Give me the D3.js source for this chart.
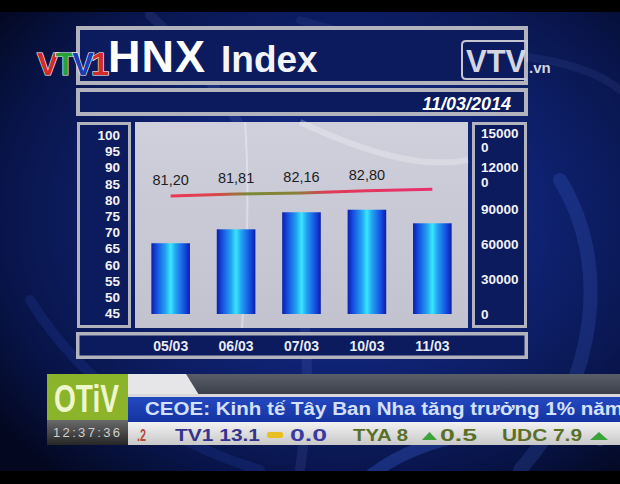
<!DOCTYPE html>
<html><head><meta charset="utf-8">
<script src="https://cdn.jsdelivr.net/npm/d3@7"></script>
<style>html,body{margin:0;padding:0;background:#000;overflow:hidden}</style>
</head><body>
<svg id="c" width="620" height="484"></svg>
<script>
// ---------- DATA ----------
const categories   = ["05/03", "06/03", "07/03", "10/03", "11/03"];
const volumeValues = [61000, 73000, 87700, 89900, 78200];   // bars (right axis)
const indexValues  = [81.20, 81.81, 82.16, 82.80, 83.3];     // HNX index line (left axis)
const indexLabels  = ["81,20", "81,81", "82,16", "82,80"];
const leftTicks    = [45, 50, 55, 60, 65, 70, 75, 80, 85, 90, 95, 100];
const rightTicks   = [0, 30000, 60000, 90000, 120000, 150000];
const titleMain    = "HNX";
const titleSub     = "Index";
const dateLabel    = "11/03/2014";
const channelLogo  = ["V", "T", "V", "1"];
const newsText     = "CEOE: Kinh tế Tây Ban Nha tăng trưởng 1% năm";
const clockText    = "12:37:36";
const stockTexts   = [".2", "TV1 13.1", "0.0", "TYA 8", "0.5", "UDC 7.9"];

// ---------- SETUP ----------
const svg = d3.select("#c");
const defs = svg.append("defs");
const FONT = "'Liberation Sans', Arial, Helvetica, sans-serif";
const NARROW = "'Liberation Sans Narrow', 'Arial Narrow', 'Liberation Sans', Arial, sans-serif";

function lg(id, stops, x1, y1, x2, y2, user) {
  const g = defs.append("linearGradient").attr("id", id)
    .attr("x1", x1).attr("y1", y1).attr("x2", x2).attr("y2", y2);
  if (user) g.attr("gradientUnits", "userSpaceOnUse");
  stops.forEach(s => g.append("stop").attr("offset", s[0]).attr("stop-color", s[1]).attr("stop-opacity", s[2] == null ? 1 : s[2]));
  return g;
}
const bgR = defs.append("radialGradient").attr("id", "bg").attr("cx", "55%").attr("cy", "45%").attr("r", "70%");
[["0%", "#18318f"], ["45%", "#0f2272"], ["80%", "#081448"], ["100%", "#030820"]]
  .forEach(s => bgR.append("stop").attr("offset", s[0]).attr("stop-color", s[1]));
lg("bar", [["0%", "#0a1ea8"], ["12%", "#1546dc"], ["38%", "#22a8f4"], ["50%", "#3ae6ff"], ["62%", "#22a8f4"], ["88%", "#1546dc"], ["100%", "#0a1ea8"]], "0", "0", "1", "0");
lg("plotbg", [["0%", "#cfd0dc"], ["40%", "#c9cad6"], ["100%", "#c2c3cf"]], "0", "0", "0", "1");
lg("clock", [["0%", "#6a6a6a"], ["100%", "#262626"]], "0", "0", "0", "1");
lg("news", [["0%", "#2448c0"], ["100%", "#1434a0"]], "0", "0", "0", "1");
lg("stock", [["0%", "#f2f2f2"], ["100%", "#c8c8c8"]], "0", "0", "0", "1");
lg("greybar", [["0%", "#5a5e68"], ["100%", "#3a3e48"]], "0", "0", "0", "1");

// background
svg.append("rect").attr("width", 620).attr("height", 484).attr("fill", "url(#bg)");
// faint swirl streaks
const sw = svg.append("g").attr("fill", "none").attr("stroke-linecap", "round");
[
  ["M 150 15 C 260 120 330 260 300 470", "#8fa8ff", 0.1, 10],
  ["M 560 180 C 610 260 600 380 520 470", "#5a80ff", 0.16, 14],
  ["M 360 484 C 420 430 520 420 600 440", "#4a78ff", 0.25, 12],
  ["M 30 300 C 80 380 160 440 260 470", "#2a4cc0", 0.2, 10],
  ["M 300 20 C 420 60 560 40 620 90", "#8fa8ff", 0.08, 8]
].forEach(a => sw.append("path").attr("d", a[0]).attr("stroke", a[1]).attr("stroke-opacity", a[2]).attr("stroke-width", a[3]));
// letterbox bands
svg.append("rect").attr("width", 620).attr("height", 12).attr("fill", "#000");
svg.append("rect").attr("y", 471).attr("width", 620).attr("height", 13).attr("fill", "#000");

// ---------- FRAMES ----------
const FRAME = "#b2b3bc", NAVY = "#0b1b5e";
function frame(x0, y0, x1, y1, sw) {
  svg.append("rect").attr("x", x0 + sw / 2).attr("y", y0 + sw / 2)
    .attr("width", x1 - x0 - sw).attr("height", y1 - y0 - sw)
    .attr("fill", NAVY).attr("stroke", FRAME).attr("stroke-width", sw);
}
frame(76, 26, 528, 85, 4);   // title
frame(76, 88, 528, 116, 4);  // date
frame(77, 122, 131, 328, 3); // left axis panel
frame(472, 122, 527, 328, 3);// right axis panel
frame(76, 332, 528, 359, 3.5);// category panel
svg.append("rect").attr("x", 135).attr("y", 122).attr("width", 333).attr("height", 206).attr("fill", "url(#plotbg)");
svg.append("path").attr("d", "M 245 122 C 250 190 247 260 242 328").attr("fill", "none")
  .attr("stroke", "#ffffff").attr("stroke-opacity", 0.35).attr("stroke-width", 2);
svg.append("path").attr("d", "M 300 122 C 360 150 420 170 468 160").attr("fill", "none")
  .attr("stroke", "#ffffff").attr("stroke-opacity", 0.25).attr("stroke-width", 6);

// ---------- TITLE ----------
svg.append("text").attr("x", 108).attr("y", 72).attr("font-family", FONT).attr("font-weight", "bold")
  .attr("font-size", 45).attr("fill", "#ffffff").attr("letter-spacing", 1).text(titleMain);
svg.append("text").attr("x", 221).attr("y", 72).attr("font-family", FONT).attr("font-weight", "bold")
  .attr("font-size", 37).attr("fill", "#f4f4f8").text(titleSub);
svg.append("text").attr("x", 511).attr("y", 110).attr("text-anchor", "end").attr("font-family", FONT)
  .attr("font-weight", "bold").attr("font-style", "italic").attr("font-size", 18).attr("fill", "#ffffff").text(dateLabel);

// VTV1 logo
const logoColors = ["#d42a2a", "#2aa03a", "#1c3cb0", "#d42a2a"];
const logo = svg.append("text").attr("x", 37).attr("y", 75).attr("font-family", FONT).attr("font-weight", "bold")
  .attr("font-size", 32).attr("letter-spacing", -3).attr("textLength", 69).attr("lengthAdjust", "spacingAndGlyphs")
  .attr("stroke", "#ffffff").attr("stroke-width", 1.2).attr("paint-order", "stroke");
channelLogo.forEach((ch, i) => logo.append("tspan").attr("fill", logoColors[i]).text(ch));

// VTV.vn logo
svg.append("path").attr("d", "M 527 62 L 527 41 L 466 41 Q 462 41 462 45 L 462 75 Q 462 79 466 79 L 527 79")
  .attr("fill", "none").attr("stroke", "#c4c6d2").attr("stroke-width", 2);
svg.append("text").attr("x", 466).attr("y", 72).attr("font-family", FONT).attr("font-weight", "bold")
  .attr("font-size", 31).attr("fill", "#d4d6e2").text("VTV");
svg.append("text").attr("x", 529).attr("y", 73).attr("font-family", FONT).attr("font-weight", "bold")
  .attr("font-size", 15).attr("fill", "#d4d6e2").text(".vn");

// ---------- SCALES ----------
const x = d3.scaleBand().domain(categories).range([135, 468]).paddingInner(0.41).paddingOuter(0.25);
const yR = d3.scaleLinear().domain([0, 150000]).range([314, 140]);
const yL = d3.scaleLinear().domain([45, 100]).range([313.5, 135]);

// bars
svg.append("g").selectAll("rect").data(volumeValues).join("rect")
  .attr("x", (d, i) => x(categories[i])).attr("y", d => yR(d))
  .attr("width", x.bandwidth()).attr("height", d => yR(0) - yR(d))
  .attr("fill", "url(#bar)");

// index line
const cx = i => x(categories[i]) + x.bandwidth() / 2;
const x0 = cx(0), x1 = cx(indexValues.length - 1);
lg("lineg", [["0%", "#ec3458"], ["18%", "#d84848"], ["30%", "#7a8a34"], ["48%", "#8a8038"], ["60%", "#e03a56"], ["100%", "#e8306e"]], x0, 0, x1, 0, true);
const line = d3.line().x((d, i) => cx(i)).y(d => yL(d));
svg.append("path").datum(indexValues).attr("d", line).attr("fill", "none")
  .attr("stroke", "url(#lineg)").attr("stroke-width", 3);
svg.append("g").selectAll("text").data(indexLabels).join("text")
  .attr("x", (d, i) => cx(i)).attr("y", (d, i) => yL(indexValues[i]) - 11)
  .attr("text-anchor", "middle").attr("font-family", FONT).attr("font-size", 14.5)
  .attr("fill", "#1c1c22").text(d => d);

// ---------- AXES ----------
const axL = svg.append("g").attr("transform", "translate(120,0)")
  .call(d3.axisLeft(yL).tickValues(leftTicks).tickSize(0).tickPadding(0));
axL.select(".domain").remove();
axL.selectAll("text").attr("font-family", FONT).attr("font-weight", "bold").attr("font-size", 13.5).attr("fill", "#f2f2f6");

const axR = svg.append("g").attr("transform", "translate(481,0)")
  .call(d3.axisRight(yR).tickValues(rightTicks).tickSize(0).tickPadding(0).tickFormat(d3.format("d")));
axR.select(".domain").remove();
axR.selectAll("text").attr("font-family", FONT).attr("font-weight", "bold").attr("font-size", 13.5).attr("fill", "#f2f2f6")
  .each(function () {
    const t = d3.select(this), s = t.text();
    if (s.length > 5) {
      t.text(null).attr("dy", null);
      t.append("tspan").attr("x", 0).attr("dy", -3).text(s.slice(0, 5));
      t.append("tspan").attr("x", 0).attr("dy", 14.5).text(s.slice(5));
    }
  });

const axB = svg.append("g").attr("transform", "translate(0,341)")
  .call(d3.axisBottom(x).tickSize(0).tickPadding(0));
axB.select(".domain").remove();
axB.selectAll("text").attr("font-family", FONT).attr("font-weight", "bold").attr("font-size", 14).attr("fill", "#e8eaf4");

// ---------- TICKER ----------
svg.append("rect").attr("x", 128).attr("y", 374).attr("width", 492).attr("height", 21).attr("fill", "url(#greybar)");
svg.append("path").attr("d", "M 128 374 L 186 374 L 199 395 L 128 395 Z").attr("fill", "#e6e6e8");
svg.append("rect").attr("x", 128).attr("y", 394).attr("width", 492).attr("height", 3).attr("fill", "#d8d8dc");
svg.append("rect").attr("x", 128).attr("y", 397).attr("width", 492).attr("height", 25).attr("fill", "url(#news)");
svg.append("rect").attr("x", 128).attr("y", 422).attr("width", 492).attr("height", 23).attr("fill", "url(#stock)");
svg.append("text").attr("x", 145).attr("y", 415).attr("font-family", NARROW).attr("font-weight", "bold")
  .attr("font-size", 18).attr("fill", "#d4e0ff").attr("textLength", 478).attr("lengthAdjust", "spacingAndGlyphs").text(newsText);

svg.append("rect").attr("x", 47).attr("y", 374).attr("width", 81).attr("height", 46).attr("fill", "#8cb42a");
svg.append("text").attr("x", 54).attr("y", 412).attr("font-family", NARROW).attr("font-weight", "bold")
  .attr("font-size", 38).attr("fill", "#eef6cc").attr("textLength", 65).attr("lengthAdjust", "spacingAndGlyphs").text("OTiV");
svg.append("rect").attr("x", 47).attr("y", 420).attr("width", 81).attr("height", 25).attr("fill", "url(#clock)");
svg.append("text").attr("x", 53).attr("y", 437).attr("font-family", FONT)
  .attr("font-size", 13).attr("fill", "#cfcfcf").attr("textLength", 67).attr("lengthAdjust", "spacing").text(clockText);

const stockX = [137, 175, 290, 353, 440, 502];
const stockW = [9, 85, 37, 55, 37, 80];
const stockC = ["#b44a3a", "#34348c", "#3a3aa0", "#5a7028", "#5a7028", "#5a7028"];
stockTexts.forEach((s, i) => {
  svg.append("text").attr("x", stockX[i]).attr("y", 441).attr("font-family", NARROW).attr("font-weight", "bold")
    .attr("font-size", 16).attr("fill", stockC[i]).attr("textLength", stockW[i]).attr("lengthAdjust", "spacingAndGlyphs").text(s);
});
svg.append("rect").attr("x", 267).attr("y", 432).attr("width", 16).attr("height", 6).attr("rx", 2).attr("fill", "#e8c020");
[[422, 437], [590, 608]].forEach(p => svg.append("path")
  .attr("d", `M ${p[0]} 440 L ${(p[0] + p[1]) / 2} 432 L ${p[1]} 440 Z`).attr("fill", "#3aa43a"));
</script>
</body></html>
